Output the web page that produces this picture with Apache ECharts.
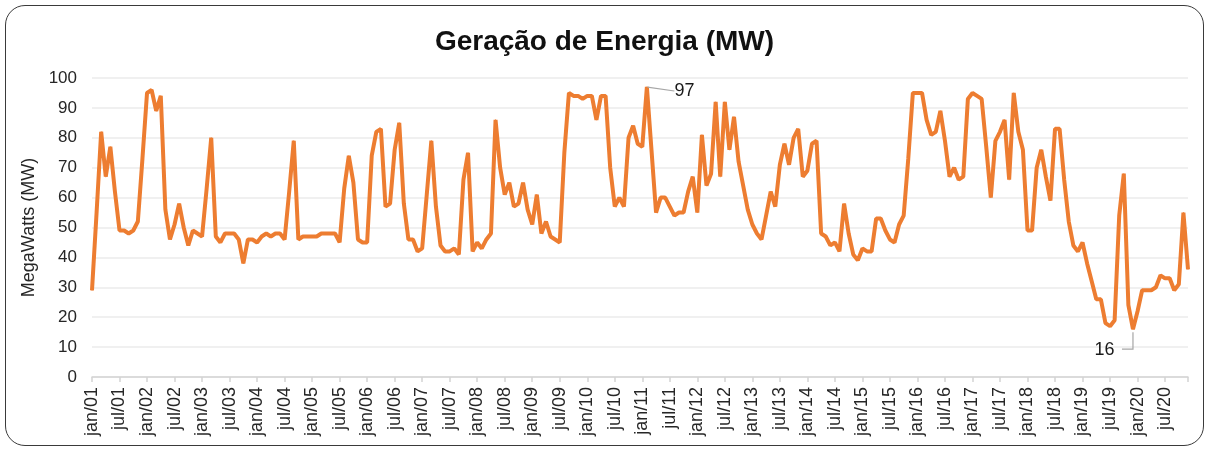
<!DOCTYPE html>
<html>
<head>
<meta charset="utf-8">
<script src="https://cdn.jsdelivr.net/npm/echarts@6/dist/echarts.min.js"></script>
<style>
    html, body {
        margin: 0;
        padding: 0;
        background: #ffffff;
    }
    .moldura {
        position: absolute;
        left: 5px;
        top: 5px;
        width: 1199px;
        height: 441px;
        border: 1px solid #3a3a3a;
        border-radius: 20px;
        box-sizing: border-box;
    }
    .geracao-energia {
        position: absolute;
        left: 0;
        top: 0;
        width: 1209px;
        height: 449px;
    }
</style>
</head>
<body>
<div class="moldura"></div>
<div class="geracao-energia" id="geracaoEnergia"></div>
<script>
const meses = ["jan", "fev", "mar", "abr", "mai", "jun", "jul", "ago", "set", "out", "nov", "dez"];
const anos = ["01", "02", "03", "04", "05", "06", "07", "08", "09", "10",
    "11", "12", "13", "14", "15", "16", "17", "18", "19", "20"];

// MW por mês, jan/01 .. dez/20 (uma linha por ano)
const geracao = [
    29, 55, 82, 67, 77, 62, 49, 49, 48, 49, 52, 73,
    95, 96, 89, 94, 56, 46, 51, 58, 50, 44, 49, 48,
    47, 63, 80, 47, 45, 48, 48, 48, 46, 38, 46, 46,
    45, 47, 48, 47, 48, 48, 46, 62, 79, 46, 47, 47,
    47, 47, 48, 48, 48, 48, 45, 63, 74, 65, 46, 45,
    45, 74, 82, 83, 57, 58, 76, 85, 58, 46, 46, 42,
    43, 61, 79, 57, 44, 42, 42, 43, 41, 66, 75, 42,
    45, 43, 46, 48, 86, 70, 61, 65, 57, 58, 65, 56,
    51, 61, 48, 52, 47, 46, 45, 75, 95, 94, 94, 93,
    94, 94, 86, 94, 94, 70, 57, 60, 57, 80, 84, 78,
    77, 97, 76, 55, 60, 60, 57, 54, 55, 55, 62, 67,
    55, 81, 64, 68, 92, 67, 92, 76, 87, 72, 64, 56,
    51, 48, 46, 54, 62, 57, 71, 78, 71, 80, 83, 67,
    69, 78, 79, 48, 47, 44, 45, 42, 58, 48, 41, 39,
    43, 42, 42, 53, 53, 49, 46, 45, 51, 54, 73, 95,
    95, 95, 86, 81, 82, 89, 79, 67, 70, 66, 67, 93,
    95, 94, 93, 77, 60, 79, 82, 86, 66, 95, 82, 76,
    49, 49, 70, 76, 67, 59, 83, 83, 66, 52, 44, 42,
    45, 38, 32, 26, 26, 18, 17, 19, 54, 68, 24, 16,
    22, 29, 29, 29, 30, 34, 33, 33, 29, 31, 55, 36
];

const eixoY = { min: 0, max: 100, interval: 10 };

const categorias = [];
anos.forEach(a => meses.forEach(m => categorias.push(m + "/" + a)));

const iMax = geracao.indexOf(Math.max(...geracao));
const iMin = geracao.indexOf(Math.min(...geracao));

const fonte = "'Liberation Sans', Arial, sans-serif";
const corGuia = "#a6a6a6";

const dados = geracao.map((v, i) => {
    if (i === iMax) {
        return { value: v, label: { show: true, position: "right", distance: 5 } };
    }
    if (i === iMin) {
        return {
            value: v,
            label: { show: true, position: "left", distance: 5 },
            labelLine: { show: false }
        };
    }
    return v;
});

const myChart = echarts.init(document.getElementById("geracaoEnergia"));
const myChartOptions = {
    animation: false,
    textStyle: { fontFamily: fonte },
    title: {
        text: "Geração de Energia (MW)",
        left: "center",
        top: 23,
        textStyle: {
            fontFamily: fonte,
            fontSize: 28,
            fontWeight: "bold",
            color: "#111"
        }
    },
    grid: {
        left: 92,
        right: 21,
        top: 78,
        bottom: 72,
        containLabel: false
    },
    xAxis: {
        type: "category",
        data: categorias,
        boundaryGap: false,
        axisLine: { lineStyle: { color: "#d4d4d4", width: 1.5 } },
        axisTick: {
            show: true,
            length: 5,
            interval: (i) => i % 6 === 0 || i === categorias.length - 1,
            lineStyle: { color: "#d4d4d4", width: 1.5 }
        },
        axisLabel: {
            interval: 5,
            rotate: 90,
            margin: 10,
            fontSize: 18,
            color: "#262626",
            fontFamily: fonte
        },
        splitLine: { show: false }
    },
    yAxis: {
        type: "value",
        min: eixoY.min,
        max: eixoY.max,
        interval: eixoY.interval,
        name: "MegaWatts (MW)",
        nameLocation: "middle",
        nameRotate: 90,
        nameGap: 50,
        nameTextStyle: { fontSize: 18, color: "#262626", fontFamily: fonte },
        axisLine: { show: false },
        axisTick: { show: false },
        axisLabel: { fontSize: 17, margin: 15, color: "#262626", fontFamily: fonte },
        splitLine: { lineStyle: { color: "#ebebeb", width: 1.5 } }
    },
    series: [
        {
            name: "Geração",
            type: "line",
            data: dados,
            smooth: false,
            showSymbol: true,
            symbol: "circle",
            symbolSize: 1,
            itemStyle: { color: "#ED7D31" },
            lineStyle: { color: "#ED7D31", width: 4 },
            label: {
                show: false,
                fontSize: 18,
                color: "#1a1a1a",
                fontFamily: fonte
            },
            labelLine: {
                show: true,
                lineStyle: { color: corGuia, width: 1.2 }
            },
            labelLayout: function (p) {
                if (p.dataIndex === iMax) {
                    return { dx: 22, dy: 4 };
                }
                if (p.dataIndex === iMin) {
                    return { dx: -13, dy: 21 };
                }
                return {};
            }
        }
    ]
};
myChart.setOption(myChartOptions);

// linha-guia em "L" para o rótulo do mínimo
const pMin = myChart.convertToPixel({ seriesIndex: 0 }, [iMin, geracao[iMin]]);
myChart.setOption({
    graphic: [
        {
            type: "polyline",
            silent: true,
            shape: {
                points: [
                    [pMin[0], pMin[1] + 3],
                    [pMin[0], pMin[1] + 20],
                    [pMin[0] - 11, pMin[1] + 20]
                ]
            },
            style: { stroke: corGuia, lineWidth: 1.2, fill: null }
        }
    ]
});
window.addEventListener("resize", () => myChart.resize());
</script>
</body>
</html>
